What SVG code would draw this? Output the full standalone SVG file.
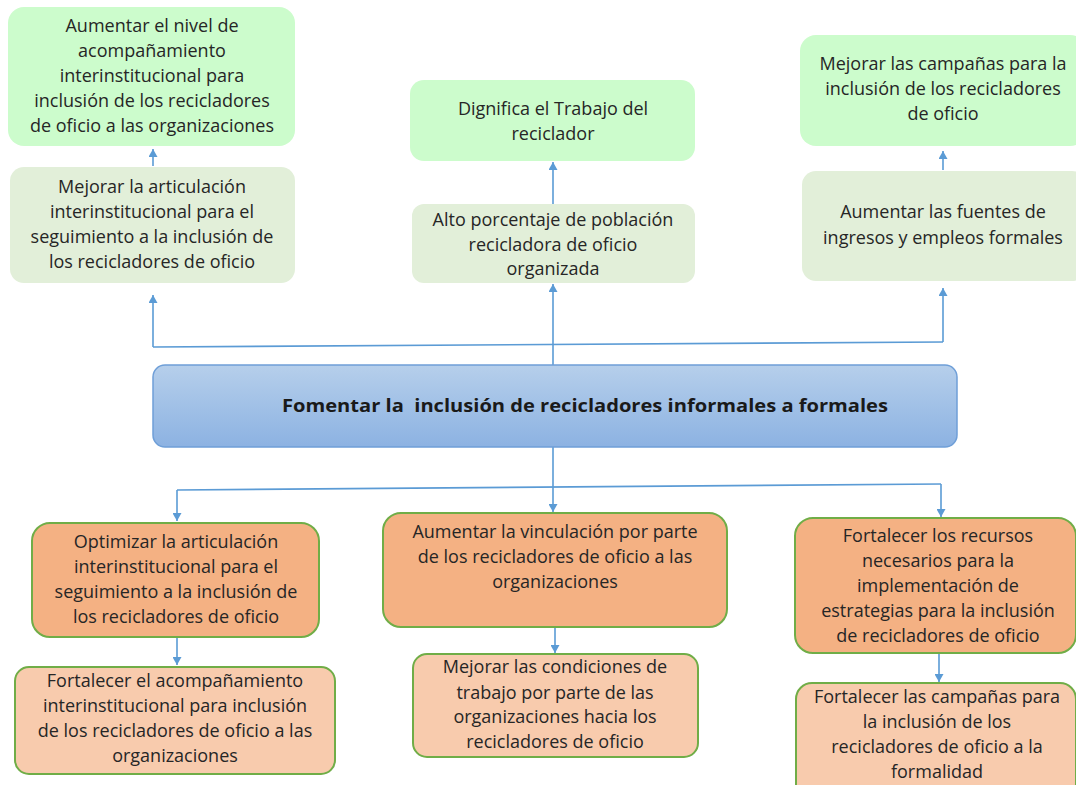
<svg xmlns="http://www.w3.org/2000/svg" width="1076" height="785" viewBox="0 0 1076 785">
<style>
text{font-family:"Open Sans","Liberation Sans",sans-serif;font-size:18px;fill:#262626;text-anchor:middle}
.g1{fill:#ccfccc}
.g2{fill:#e2efd9}
.o1{fill:#f4b183;stroke:#70ad47;stroke-width:2}
.o2{fill:#f8cbad;stroke:#70ad47;stroke-width:2}
.c{fill:none;stroke:#5b9bd5;stroke-width:1.6}
.title{font-weight:bold;font-size:17px;fill:#1a1a1a;white-space:pre}
</style>
<defs>
<linearGradient id="bg" x1="0" y1="0" x2="0" y2="1">
<stop offset="0" stop-color="#b6cfeb"/>
<stop offset="1" stop-color="#8cb2e2"/>
</linearGradient>
<marker id="ah" markerUnits="userSpaceOnUse" markerWidth="9" markerHeight="9" refX="8" refY="4.5" orient="auto">
<path d="M0,0 L8,4.5 L0,9 z" fill="#5b9bd5"/>
</marker>
</defs>
<rect width="1076" height="785" fill="#ffffff"/>

<g id="connectors">
<line class="c" x1="153" y1="166" x2="153" y2="149" marker-end="url(#ah)"/>
<line class="c" x1="553" y1="204" x2="553" y2="162" marker-end="url(#ah)"/>
<line class="c" x1="943" y1="170" x2="943" y2="151" marker-end="url(#ah)"/>
<polyline class="c" points="943,342 153,347"/>
<line class="c" x1="153" y1="347" x2="153" y2="295" marker-end="url(#ah)"/>
<line class="c" x1="943" y1="342" x2="943" y2="288" marker-end="url(#ah)"/>
<line class="c" x1="553" y1="365" x2="553" y2="284" marker-end="url(#ah)"/>
<line class="c" x1="553" y1="447" x2="553" y2="512" marker-end="url(#ah)"/>
<polyline class="c" points="177,490 941,484"/>
<line class="c" x1="177" y1="490" x2="177" y2="521" marker-end="url(#ah)"/>
<line class="c" x1="941" y1="484" x2="941" y2="517" marker-end="url(#ah)"/>
<line class="c" x1="177" y1="637" x2="177" y2="665" marker-end="url(#ah)"/>
<line class="c" x1="555" y1="627" x2="555" y2="653" marker-end="url(#ah)"/>
<line class="c" x1="939" y1="653" x2="939" y2="682" marker-end="url(#ah)"/>
</g>

<g id="n-aumentar-nivel">
<rect class="g1" x="8" y="7" width="287" height="139" rx="16"/>
<text x="152" y="32">Aumentar el nivel de</text>
<text x="152" y="57">acompañamiento</text>
<text x="152" y="82">interinstitucional para</text>
<text x="152" y="107">inclusión de los recicladores</text>
<text x="152" y="132">de oficio a las organizaciones</text>
</g>

<g id="n-mejorar-articulacion">
<rect class="g2" x="10" y="167" width="285" height="116" rx="14"/>
<text x="152" y="193">Mejorar la articulación</text>
<text x="152" y="218">interinstitucional para el</text>
<text x="152" y="243">seguimiento a la inclusión de</text>
<text x="152" y="268">los recicladores de oficio</text>
</g>

<g id="n-dignifica">
<rect class="g1" x="410" y="80" width="285" height="81" rx="14"/>
<text x="553" y="115">Dignifica el Trabajo del</text>
<text x="553" y="140">reciclador</text>
</g>

<g id="n-alto-porcentaje">
<rect class="g2" x="412" y="204" width="283" height="79" rx="12"/>
<text x="553" y="226">Alto porcentaje de población</text>
<text x="553" y="251">recicladora de oficio</text>
<text x="553" y="275">organizada</text>
</g>

<g id="n-mejorar-campanas">
<rect class="g1" x="800" y="35" width="286" height="111" rx="16"/>
<text x="943" y="70">Mejorar las campañas para la</text>
<text x="943" y="95">inclusión de los recicladores</text>
<text x="943" y="120">de oficio</text>
</g>

<g id="n-aumentar-fuentes">
<rect class="g2" x="802" y="171" width="284" height="110" rx="14"/>
<text x="943" y="218">Aumentar las fuentes de</text>
<text x="943" y="244">ingresos y empleos formales</text>
</g>

<g id="n-fomentar">
<rect x="153" y="365" width="804" height="82" rx="12" fill="url(#bg)" stroke="#6f9fd8" stroke-width="1.5"/>
<text class="title" x="585" y="412" textLength="606" lengthAdjust="spacingAndGlyphs">Fomentar la  inclusión de recicladores informales a formales</text>
</g>

<g id="n-optimizar">
<rect class="o1" x="32" y="523" width="287" height="114" rx="18"/>
<text x="176" y="548">Optimizar la articulación</text>
<text x="176" y="573">interinstitucional para el</text>
<text x="176" y="598">seguimiento a la inclusión de</text>
<text x="176" y="623">los recicladores de oficio</text>
</g>

<g id="n-fortalecer-acomp">
<rect class="o2" x="15" y="667" width="320" height="107" rx="14"/>
<text x="175" y="687">Fortalecer el acompañamiento</text>
<text x="175" y="712">interinstitucional para inclusión</text>
<text x="175" y="737">de los recicladores de oficio a las</text>
<text x="175" y="762">organizaciones</text>
</g>

<g id="n-aumentar-vinculacion">
<rect class="o1" x="383" y="513" width="344" height="114" rx="18"/>
<text x="555" y="538">Aumentar la vinculación por parte</text>
<text x="555" y="563">de los recicladores de oficio a las</text>
<text x="555" y="588">organizaciones</text>
</g>

<g id="n-mejorar-condiciones">
<rect class="o2" x="413" y="654" width="285" height="103" rx="14"/>
<text x="555" y="673">Mejorar las condiciones de</text>
<text x="555" y="699">trabajo por parte de las</text>
<text x="555" y="723">organizaciones hacia los</text>
<text x="555" y="748">recicladores de oficio</text>
</g>

<g id="n-fortalecer-recursos">
<rect class="o1" x="795" y="518" width="281" height="135" rx="18"/>
<text x="938" y="542">Fortalecer los recursos</text>
<text x="938" y="567">necesarios para la</text>
<text x="938" y="592">implementación de</text>
<text x="938" y="617">estrategias para la inclusión</text>
<text x="938" y="642">de recicladores de oficio</text>
</g>

<g id="n-fortalecer-campanas">
<rect class="o2" x="796" y="683" width="280" height="120" rx="16"/>
<text x="937" y="703">Fortalecer las campañas para</text>
<text x="937" y="728">la inclusión de los</text>
<text x="937" y="753">recicladores de oficio a la</text>
<text x="937" y="778">formalidad</text>
</g>
</svg>
